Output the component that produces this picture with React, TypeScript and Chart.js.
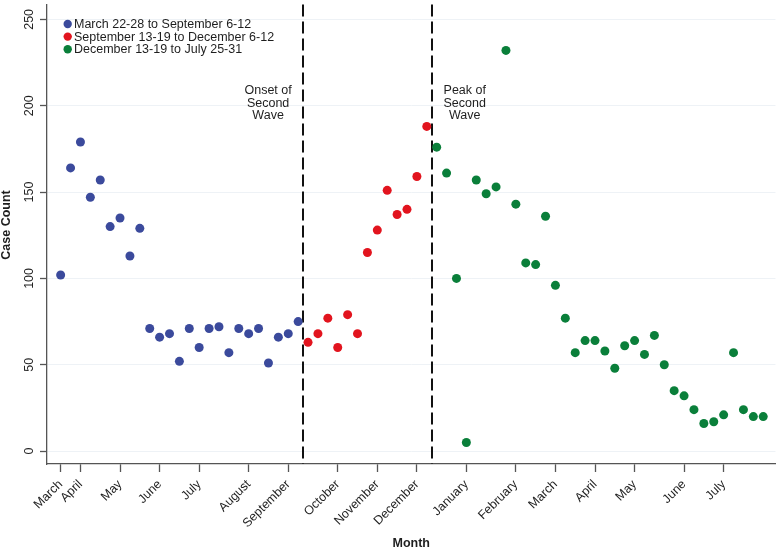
import React, { useEffect, useRef } from "react";
import { Chart, registerables } from "chart.js";

Chart.register(...registerables);

const seriesLabels = [
  "March 22-28 to September 6-12",
  "September 13-19 to December 6-12",
  "December 13-19 to July 25-31",
];
const seriesColors = ["#3B4A9C", "#E2141E", "#0A7F3A"];

// weekly case counts, in week order
const firstPeriodCounts = [
  102, 164, 179, 147, 157, 130, 135, 113, 129, 71, 66, 68, 52, 71, 60, 71, 72,
  57, 71, 68, 71, 51, 66, 68, 75,
];
const secondPeriodCounts = [63, 68, 77, 60, 79, 68, 115, 128, 151, 137, 140, 159, 188];
const thirdPeriodCounts = [
  176, 161, 100, 5, 157, 149, 153, 232, 143, 109, 108, 136, 96, 77, 57, 64, 64,
  58, 48, 61, 64, 56, 67, 50, 35, 32, 24, 16, 17, 21, 57, 24, 20, 20,
];

const monthTickWeeks = [0, 2, 6, 10, 14, 19, 23, 28, 32, 36, 41, 46, 50, 54, 58, 63, 67];
const monthTickLabels = [
  "March", "April", "May", "June", "July", "August", "September", "October",
  "November", "December", "January", "February", "March", "April", "May", "June", "July",
];
const caseCountTicks = [0, 50, 100, 150, 200, 250];

const waveMarkerWeeks = [24.5, 37.5];
const waveMarkerTexts = [
  ["Onset of", "Second", "Wave"],
  ["Peak of", "Second", "Wave"],
];

const FONT = "'Liberation Sans', Arial, Helvetica, sans-serif";
const AXIS_COLOR = "#555555";
const TEXT_COLOR = "#1e1e1e";

export default function App() {
  const canvasRef = useRef<HTMLCanvasElement>(null);

  useEffect(() => {
    const canvas = canvasRef.current;
    if (!canvas) return;

    const groups = [firstPeriodCounts, secondPeriodCounts, thirdPeriodCounts];
    let week = 0;
    const datasets = groups.map((counts, i) => {
      const start = week;
      week += counts.length;
      return {
        label: seriesLabels[i],
        data: counts.map((v, j) => ({ x: start + j, y: v })),
        backgroundColor: seriesColors[i],
        borderWidth: 0,
        pointRadius: 4.5,
        pointHoverRadius: 4.5,
      };
    });

    const overlay = {
      id: "overlay",
      beforeDatasetsDraw(chart: any) {
        const { ctx, chartArea, scales } = chart;
        ctx.save();
        ctx.strokeStyle = "#111111";
        ctx.lineWidth = 2;
        ctx.setLineDash([12, 5]);
        waveMarkerWeeks.forEach((w) => {
          const px = Math.round(scales.x.getPixelForValue(w));
          ctx.beginPath();
          ctx.moveTo(px, chartArea.top);
          ctx.lineTo(px, chartArea.bottom);
          ctx.stroke();
        });
        ctx.restore();
      },
      afterDraw(chart: any) {
        const { ctx, chartArea, scales } = chart;
        ctx.save();
        // legend
        ctx.font = `12.5px ${FONT}`;
        ctx.textBaseline = "middle";
        ctx.textAlign = "left";
        seriesLabels.forEach((lab, i) => {
          const cy = 24 + i * 12.6;
          ctx.fillStyle = seriesColors[i];
          ctx.beginPath();
          ctx.arc(67.7, cy, 4.2, 0, Math.PI * 2);
          ctx.fill();
          ctx.fillStyle = TEXT_COLOR;
          ctx.fillText(lab, 74, cy + 0.5);
        });
        // wave labels
        ctx.textAlign = "center";
        const offsets = [-35, 33];
        waveMarkerTexts.forEach((lines, i) => {
          const cx = scales.x.getPixelForValue(waveMarkerWeeks[i]) + offsets[i];
          lines.forEach((t, k) => {
            ctx.fillText(t, cx, 90.8 + k * 12.35);
          });
        });
        // axis titles
        ctx.font = `bold 12.5px ${FONT}`;
        ctx.fillText("Month", (chartArea.left + chartArea.right) / 2, 544);
        ctx.translate(6.5, 225);
        ctx.rotate(-Math.PI / 2);
        ctx.fillText("Case Count", 0, 0);
        ctx.restore();
      },
    };

    const chart = new Chart(canvas, {
      type: "scatter",
      data: { datasets },
      options: {
        responsive: false,
        animation: false,
        devicePixelRatio: 1,
        layout: { padding: { left: 0, right: 2, top: 0, bottom: 0 } },
        plugins: {
          legend: { display: false },
          tooltip: { enabled: false },
        },
        scales: {
          x: {
            type: "linear",
            min: -1.38,
            max: 72.24,
            afterBuildTicks: (s: any) => {
              s.ticks = monthTickWeeks.map((v) => ({ value: v }));
            },
            afterFit: (s: any) => {
              s.height = 87;
              s.paddingLeft = 0;
              s.paddingRight = 0;
            },
            ticks: {
              autoSkip: false,
              minRotation: 45,
              maxRotation: 45,
              padding: 5,
              color: TEXT_COLOR,
              font: { family: FONT, size: 12.5 },
              callback: (v: any) => {
                const idx = monthTickWeeks.indexOf(Number(v));
                return idx >= 0 ? monthTickLabels[idx] : "";
              },
            },
            grid: {
              drawOnChartArea: false,
              drawTicks: true,
              tickLength: 8,
              tickColor: AXIS_COLOR,
              tickWidth: 1.3,
            },
            border: { display: true, color: AXIS_COLOR, width: 1.3 },
          },
          y: {
            type: "linear",
            min: -7.45,
            max: 258.6,
            afterBuildTicks: (s: any) => {
              s.ticks = caseCountTicks.map((v) => ({ value: v }));
            },
            afterFit: (s: any) => {
              s.width = 47;
              s.paddingTop = 0;
              s.paddingBottom = 0;
            },
            ticks: {
              minRotation: 90,
              maxRotation: 90,
              crossAlign: "center",
              padding: 0,
              color: TEXT_COLOR,
              font: { family: FONT, size: 12.5 },
            },
            grid: {
              color: "#EEF2F6",
              lineWidth: 1,
              drawTicks: true,
              tickLength: 7,
              tickColor: AXIS_COLOR,
              tickWidth: 1.3,
            },
            border: { display: true, color: AXIS_COLOR, width: 1.3 },
          },
        },
      },
      plugins: [overlay],
    } as any);

    return () => {
      chart.destroy();
    };
  }, []);

  return (
    <div
      style={{
        position: "fixed",
        left: 0,
        top: 0,
        width: 780,
        height: 551,
        background: "#ffffff",
      }}
    >
      <canvas ref={canvasRef} width={780} height={551} style={{ display: "block" }} />
    </div>
  );
}
